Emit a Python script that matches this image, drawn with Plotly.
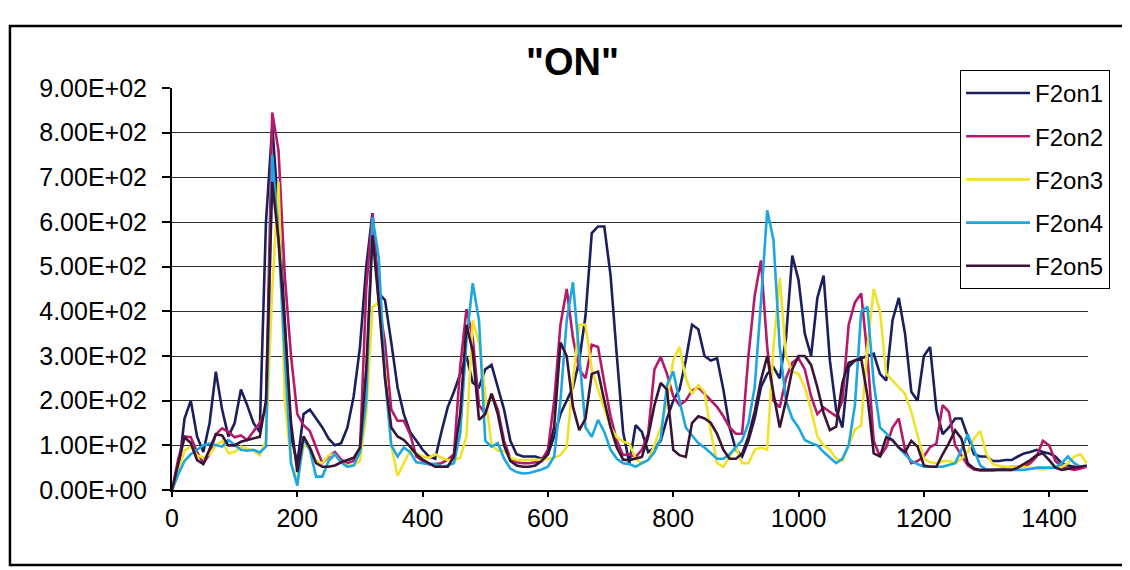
import plotly.graph_objects as go

# ---- data (x sampled every 10 units) ----
X = list(range(0, 1470, 10))

F2on1 = [
    0, 40, 160, 200, 120, 85, 150, 265, 180, 120,
    150, 225, 190, 150, 130, 600, 815, 620, 380, 120,
    60, 170, 180, 160, 140, 115, 100, 105, 140, 210,
    320, 500, 620, 440, 425, 330, 230, 170, 130, 110,
    90, 75, 70, 130, 185, 220, 260, 300, 240, 230,
    270, 280, 230, 180, 110, 80, 75, 75, 75, 70,
    80, 120, 170, 200, 230, 290, 390, 575, 590, 590,
    480, 300, 130, 60, 145, 130, 85, 95, 110, 160,
    200, 225, 290, 370, 360, 300, 290, 295, 225, 140,
    90, 75, 110, 160, 230, 260, 275, 250, 340, 525,
    470, 350, 300, 430, 480, 290, 180, 140, 275, 290,
    295, 300, 305, 260, 245, 380, 430, 350, 220, 200,
    300, 320, 180, 125, 140, 160, 160, 120, 80, 75,
    75, 65, 65, 67, 67, 75, 82, 85, 90, 85,
    82, 75, 60, 55, 52, 52, 52,
]
F2on2 = [
    0, 70, 120, 118, 85, 60, 80, 125, 138, 130,
    118, 122, 112, 130, 150, 180, 845, 760, 480, 300,
    170, 145, 132, 95, 60, 75, 85, 68, 60, 65,
    85, 450, 620, 420, 330, 180, 155, 155, 125, 75,
    65, 58, 58, 60, 68, 80, 276, 405, 340, 190,
    171, 215, 180, 110, 70, 62, 60, 60, 62, 67,
    90, 200, 370, 450, 340, 270, 250, 325, 320, 240,
    165, 110, 78, 80, 74, 90, 126, 270, 298, 260,
    210, 190, 200, 223, 230, 215, 200, 186, 165, 140,
    126, 126, 300, 435, 514, 320, 200, 185, 250, 285,
    295, 270, 210, 170, 185, 175, 165, 200, 370, 420,
    440, 300, 110, 75, 96, 140, 160, 90, 60, 65,
    75, 96, 104, 190, 175, 100, 78, 55, 46, 44,
    44, 44, 46, 50, 52, 52, 52, 60, 75, 110,
    100, 65, 52, 48, 45, 48, 52,
]
F2on3 = [
    0, 45, 88, 97, 78, 72, 80, 100, 110, 82,
    85, 97, 93, 88, 78, 110, 450, 690, 200, 60,
    20, 100, 95, 65, 60, 78, 80, 62, 55, 55,
    65, 170, 410, 420, 270, 100, 32, 60, 88, 82,
    75, 72, 80, 72, 67, 67, 72, 120, 380, 330,
    210, 100, 88, 88, 72, 67, 67, 67, 67, 68,
    70, 72, 78, 97, 246, 370, 370, 270, 225, 180,
    140, 118, 108, 104, 70, 60, 67, 100, 140, 200,
    290, 320, 250, 215, 235, 220, 130, 60, 52, 75,
    95, 60, 60, 90, 95, 90, 320, 475, 300, 265,
    260, 230, 180, 120, 100, 90, 70, 65, 100, 135,
    145, 320, 450, 400, 260, 245, 232, 215, 175, 120,
    70, 62, 60, 64, 65, 60, 70, 85, 115, 132,
    80, 58, 54, 52, 52, 52, 52, 50, 48, 46,
    48, 50, 52, 60, 75, 80, 60,
]
F2on4 = [
    0, 35, 65, 80, 90, 100, 104, 100, 97, 112,
    100, 90, 88, 90, 84, 97, 750, 560, 300, 60,
    10, 115, 90, 30, 30, 65, 80, 62, 52, 55,
    85, 200, 610, 520, 250, 100, 75, 95, 85, 62,
    60, 58, 58, 52, 55, 60, 127, 335, 463, 380,
    110, 97, 105, 70, 48, 40, 37, 38, 42, 46,
    52, 75, 200, 380, 465, 300, 140, 119, 157, 130,
    90, 70, 60, 58, 52, 60, 67, 85, 115, 235,
    265, 200, 140, 122, 105, 95, 82, 70, 70, 80,
    96, 111, 150, 230, 420, 626, 560, 320, 200, 160,
    140, 112, 105, 100, 85, 72, 60, 70, 100, 190,
    400, 410, 240, 140, 127, 110, 95, 80, 65, 58,
    52, 52, 52, 52, 56, 60, 90, 125, 90, 55,
    45, 45, 45, 45, 45, 45, 45, 47, 50, 50,
    50, 50, 60, 75, 60, 52, 52,
]
F2on5 = [
    0, 60, 118, 105, 67, 58, 90, 125, 122, 100,
    100, 108, 112, 115, 119, 200, 690, 560, 370, 150,
    40, 120, 95, 60, 52, 52, 55, 62, 67, 72,
    95, 270, 570, 420, 250, 140, 120, 112, 97, 80,
    68, 60, 52, 52, 52, 75, 171, 370, 310, 157,
    170, 216, 170, 100, 65, 55, 52, 52, 55, 65,
    80, 142, 330, 300, 186, 134, 160, 260, 265, 200,
    140, 95, 68, 67, 70, 74, 120, 190, 240, 225,
    90, 78, 74, 150, 165, 160, 150, 126, 90, 70,
    70, 81, 120, 175, 246, 300, 216, 140, 200, 270,
    300, 300, 280, 230, 172, 134, 142, 240, 285, 290,
    295, 210, 82, 75, 118, 112, 95, 85, 110, 97,
    55, 52, 52, 80, 105, 134, 115, 60, 48, 45,
    45, 45, 45, 45, 45, 50, 58, 67, 78, 82,
    67, 50, 45, 48, 50, 52, 55,
]

SERIES_NAMES = ["F2on1", "F2on2", "F2on3", "F2on4", "F2on5"]
SERIES = [F2on1, F2on2, F2on3, F2on4, F2on5]
COLORS = ["#1b1f5c", "#b51a6a", "#f0e22a", "#1ea6e0", "#3a1434"]

X_TICKS = [0, 200, 400, 600, 800, 1000, 1200, 1400]
Y_TICKS = [0, 100, 200, 300, 400, 500, 600, 700, 800, 900]
Y_TICKTEXT = ["0.00E+00", "1.00E+02", "2.00E+02", "3.00E+02", "4.00E+02",
              "5.00E+02", "6.00E+02", "7.00E+02", "8.00E+02", "9.00E+02"]

FONT = "Arial, 'Liberation Sans', sans-serif"

fig = go.Figure()
for name, ys, col in zip(SERIES_NAMES, SERIES, COLORS):
    fig.add_trace(go.Scatter(
        x=X[:len(ys)], y=ys, name=name, mode="lines",
        line=dict(color=col, width=2.6),
        legendgroup=name,
    ))

# the page adds an 8px body margin, so the figure is 8px smaller than the window
fig.update_layout(
    width=1122, height=562,
    margin=dict(l=164, r=42, t=80, b=80),
    paper_bgcolor="white", plot_bgcolor="white",
    font=dict(family=FONT, color="black", size=24),
    showlegend=True,
    legend=dict(
        x=0.8603, y=1.045, xanchor="left", yanchor="top",
        bordercolor="black", borderwidth=1, bgcolor="white",
        font=dict(size=24, family=FONT, color="black"),
        tracegroupgap=9, itemwidth=64,
    ),
    xaxis=dict(
        range=[0, 1462], tickvals=X_TICKS, showgrid=False, zeroline=False,
        showline=True, linecolor="black", linewidth=2,
        ticks="outside", ticklen=5, tickcolor="black", tickwidth=1.5,
        tickfont=dict(size=25), ticklabelstandoff=0,
    ),
    yaxis=dict(
        range=[0, 900], tickvals=Y_TICKS, ticktext=Y_TICKTEXT,
        showgrid=True, gridcolor="#2e2e2e", gridwidth=1.3, zeroline=False,
        showline=True, linecolor="black", linewidth=2,
        ticks="outside", ticklen=8, tickcolor="black", tickwidth=1.5,
        tickfont=dict(size=25), ticklabelstandoff=10,
    ),
    annotations=[dict(
        text='<b>"ON"</b>', xref="paper", yref="paper",
        x=0.4376, y=1.065, xanchor="center", yanchor="middle",
        showarrow=False, font=dict(size=38, family=FONT, color="black"),
    )],
    shapes=[dict(
        type="rect", xref="paper", yref="paper",
        x0=-0.1769, x1=1.0448, y0=-0.1866, y1=1.154,
        line=dict(color="black", width=2.5), fillcolor="rgba(0,0,0,0)",
        layer="below",
    )],
)

fig.write_html("out.html")
